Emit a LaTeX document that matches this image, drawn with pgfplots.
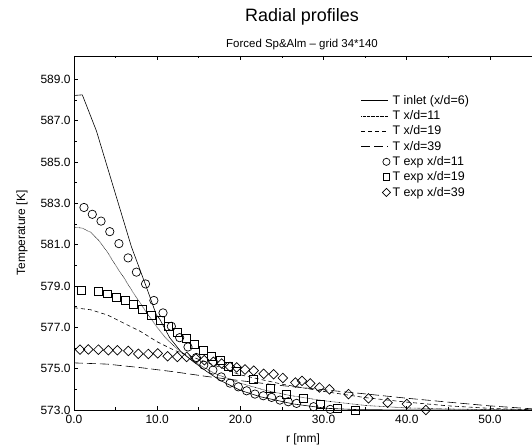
\documentclass[border=0pt]{standalone}
\usepackage{pgfplots}
\pgfplotsset{compat=1.18}
\usepackage{fontspec}
\setmainfont{Liberation Sans}

\pgfplotsset{
  legline/.style={legend image code/.code={\draw[##1] (0bp,0bp) -- (27bp,0bp);}},
  legmark/.style={legend image code/.code={\draw[##1, mark size=#1] plot coordinates {(25bp,0bp)};}},
  commonaxis/.style={
    at={(74bp,38bp)}, anchor=south west,
    scale only axis, width=458bp, height=354bp,
    xmin=0, xmax=55.05, ymin=573, ymax=590.13,
    tick align=inside, major tick length=4bp, minor tick length=2.5bp,
    xtick={0,10,...,50}, minor x tick num=1,
    ytick={573,575,...,589}, minor y tick num=1,
    axis line style={line width=0.6pt}, tick style={line width=0.6pt, black},
  }
}

\pgfplotstableread{
r T
0 588.22
1.0 588.25
2.7 586.5
6.9 580.9
8.7 578.95
9.9 577.6
10.3 577.4
11.5 576.5
12.8 575.85
14.3 575.35
16 574.85
17.5 574.45
20 573.95
22.4 573.64
26.4 573.29
30.4 573.08
34 573.02
40 573.0
56 573.0
}\inlet
\pgfplotstableread{
r T
0 581.85
1 581.8
2 581.6
3 581.2
4 580.65
5 580.0
6 579.4
7 578.75
8 578.15
9 577.55
10 577.0
11 576.5
12 576.1
13 575.75
14 575.45
15 575.2
17 574.75
20 574.3
23 573.95
26 573.7
30 573.45
35 573.22
40 573.1
45 573.05
50 573.02
56 573.0
}\xdeleven
\pgfplotstableread{
r T
0 577.95
2 577.85
4 577.6
6 577.2
8 576.8
10 576.3
12 575.9
14 575.6
16 575.3
18 575.0
20 574.7
25 574.25
30 573.9
35 573.6
40 573.38
45 573.2
50 573.08
56 573.0
}\xdnineteen
\pgfplotstableread{
r T
0 575.28
4 575.22
8 575.05
12 574.85
16 574.62
20 574.42
25 574.18
30 573.98
35 573.78
40 573.57
45 573.38
50 573.2
56 573.03
}\xdthirtynine
\pgfplotstableread{
r T
1.2 582.8
2.2 582.47
3.25 582.14
4.3 581.63
5.4 581.05
6.5 580.36
7.5 579.67
8.6 579.1
9.6 578.3
10.7 577.7
11.7 577.05
12.7 576.5
13.7 576.05
14.7 575.54
15.6 575.17
16.7 574.93
17.7 574.6
18.75 574.3
19.75 574.12
20.75 573.93
21.75 573.77
22.75 573.69
23.75 573.61
24.75 573.48
25.75 573.4
26.75 573.32
28.8 573.16
30.8 573.03
}\expeleven
\pgfplotstableread{
r T
0.93 578.78
2.93 578.75
4.05 578.62
5.13 578.46
6.13 578.3
7.13 578.09
8.25 577.85
9.34 577.6
10.34 577.34
11.33 577.05
12.42 576.77
13.46 576.45
14.42 576.16
15.5 575.89
16.55 575.6
17.55 575.38
18.55 575.09
19.55 574.88
21.55 574.5
23.56 574.07
25.56 573.74
27.56 573.56
29.57 573.29
31.7 573.1
33.8 573.0
}\expnineteen
\pgfplotstableread{
r T
0.72 575.92
1.72 575.93
2.93 575.92
4.13 575.89
5.21 575.89
6.53 575.86
7.73 575.72
8.93 575.71
10.06 575.74
11.26 575.6
12.42 575.57
13.54 575.57
14.66 575.49
15.66 575.41
16.75 575.33
17.75 575.25
18.75 575.09
19.55 575.06
20.55 574.96
21.6 574.9
22.8 574.75
24.0 574.73
25.1 574.55
26.6 574.33
27.4 574.41
28.4 574.29
29.5 574.09
30.7 574.0
33.0 573.77
35.4 573.56
37.7 573.35
40.0 573.29
42.3 573.0
}\expthirtynine

\begin{document}
\begin{tikzpicture}
\begin{axis}[commonaxis,
    axis x line*=top, axis y line=none, xticklabels={}, ytick=\empty]
\end{axis}
\begin{axis}[commonaxis,
    axis x line*=bottom, axis y line*=left,
    /pgf/number format/assume math mode=true,
    ticklabel style={font=\fontsize{12}{14}\selectfont},
    xticklabel style={yshift=-1.5bp, /pgf/number format/.cd, fixed, fixed zerofill, precision=1},
    yticklabel style={/pgf/number format/.cd, fixed, fixed zerofill, precision=1, 1000 sep={}},
    xlabel={r [mm]}, ylabel={Temperature [K]},
    xlabel style={font=\fontsize{12}{14}\selectfont, at={(axis description cs:0.5,0)}, anchor=base, yshift=-32bp},
    ylabel style={font=\fontsize{12}{14}\selectfont, at={(axis description cs:-0.1135,0.5)}, anchor=center},
    legend style={at={(0.6265,0.895)}, anchor=north west, draw=none, fill=none,
      font=\fontsize{12.5}{15.5}\selectfont, inner sep=0pt, row sep=0.8bp},
    legend cell align=left,
    legline,
    every axis plot/.append style={black, line width=0.6pt},
  ]
\addplot[solid] table[x=r,y=T] {\inlet};
\addlegendentry{T inlet (x/d=6)}
\addplot[dash pattern=on 0.6pt off 0.7pt] table[x=r,y=T] {\xdeleven};
\addlegendentry{T x/d=11}
\addplot[dash pattern=on 4pt off 3pt] table[x=r,y=T] {\xdnineteen};
\addlegendentry{T x/d=19}
\addplot[dash pattern=on 9pt off 4pt] table[x=r,y=T] {\xdthirtynine};
\addlegendentry{T x/d=39}
\addplot[only marks, mark=o, mark size=4.2pt, line width=0.7pt, legmark=3.6pt] table[x=r,y=T] {\expeleven};
\addlegendentry{T exp x/d=11}
\addplot[only marks, mark=square, mark size=4pt, line width=0.7pt, legmark=3.4pt] table[x=r,y=T] {\expnineteen};
\addlegendentry{T exp x/d=19}
\addplot[only marks, mark=square, mark size=3.4pt, mark options={rotate=45}, line width=0.7pt, legmark=2.9pt] table[x=r,y=T] {\expthirtynine};
\addlegendentry{T exp x/d=39}
\end{axis}
\node[anchor=base, font=\fontsize{18}{20}\selectfont] at (302bp,426bp) {Radial profiles};
\node[anchor=base, font=\fontsize{11.5}{13}\selectfont] at (302bp,400bp) {Forced Sp\&Alm \textendash{} grid 34*140};
\pgfresetboundingbox
\path[use as bounding box] (0,0) rectangle (532bp,448bp);
\end{tikzpicture}
\end{document}
